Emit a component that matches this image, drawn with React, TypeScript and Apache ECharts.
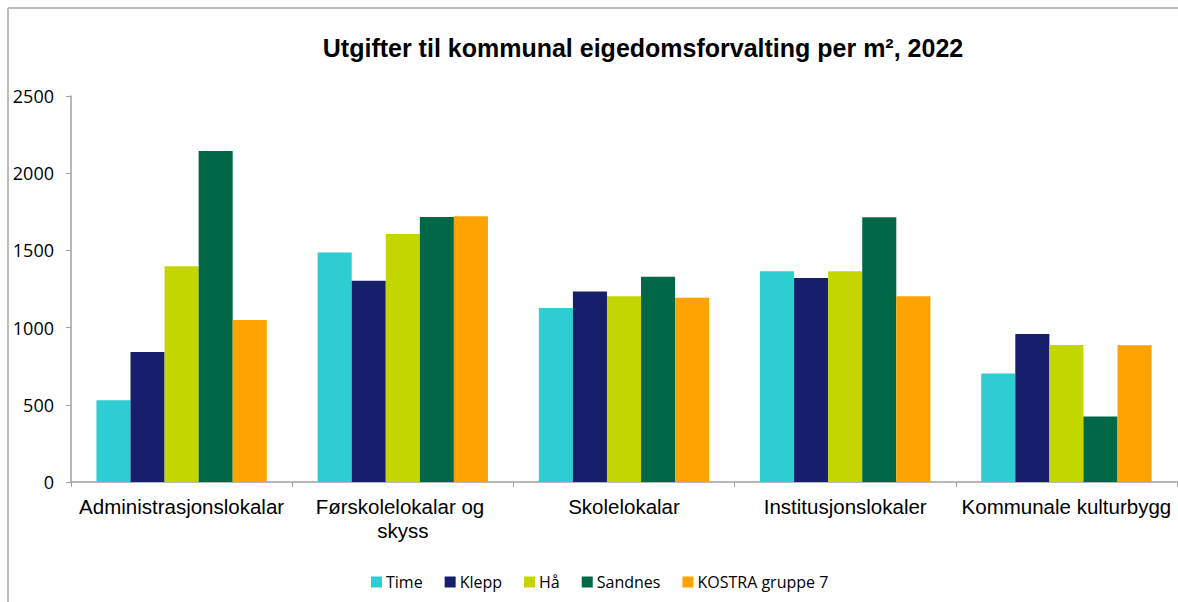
import React, { useEffect, useRef } from "react";
import * as echarts from "echarts";

const categories = [
  "Administrasjonslokalar",
  "Førskolelokalar og skyss",
  "Skolelokalar",
  "Institusjonslokaler",
  "Kommunale kulturbygg",
];
const seriesNames = ["Time", "Klepp", "Hå", "Sandnes", "KOSTRA gruppe 7"];
const seriesColors = ["#2ECCD3", "#171F6C", "#C4D600", "#006846", "#FFA300"];
const timeValues = [529, 1486, 1127, 1365, 702];
const kleppValues = [842, 1304, 1233, 1321, 959];
const haValues = [1397, 1606, 1203, 1365, 887];
const sandnesValues = [2144, 1716, 1330, 1714, 425];
const kostraValues = [1049, 1721, 1194, 1203, 885];
const yTicks = [0, 500, 1000, 1500, 2000, 2500];

const seriesValues = [timeValues, kleppValues, haValues, sandnesValues, kostraValues];

export default function App() {
  const ref = useRef<HTMLDivElement>(null);
  useEffect(() => {
    if (!ref.current) return;
    const chart = echarts.init(ref.current, null, { renderer: "svg" });
    chart.setOption({
      animation: false,
      backgroundColor: "#ffffff",
      title: {
        text: "Utgifter til kommunal eigedomsforvalting per m², 2022",
        left: 638,
        textAlign: "center",
        top: 30,
        textStyle: {
          fontFamily: "Liberation Sans",
          fontWeight: "bold",
          fontSize: 25,
          color: "#000",
        },
      },
      graphic: [
        { type: "line", shape: { x1: 8, y1: 8, x2: 8, y2: 602 }, style: { stroke: "#BDBDBD", lineWidth: 2 } },
        { type: "line", shape: { x1: 8, y1: 8, x2: 1178, y2: 8 }, style: { stroke: "#BDBDBD", lineWidth: 2 } },
      ],
      legend: {
        data: seriesNames,
        left: 366,
        top: 569,
        icon: "rect",
        itemWidth: 11,
        itemHeight: 11,
        itemGap: 22,
        textStyle: { fontFamily: "Open Sans", fontSize: 16, color: "#000", padding: [0, 0, 0, -1] },
      },
      grid: { left: 71, right: 1, top: 96, bottom: 120, containLabel: false },
      xAxis: {
        type: "category",
        data: categories,
        axisLine: { lineStyle: { color: "#A0A0A0", width: 1.5 } },
        axisTick: { show: true, length: 5, lineStyle: { color: "#A0A0A0" } },
        axisLabel: {
          interval: 0,
          margin: 12,
          fontFamily: "Liberation Sans",
          fontSize: 20.5,
          color: "#000",
          lineHeight: 24,
          width: 214,
          overflow: "break",
        },
      },
      yAxis: {
        type: "value",
        min: yTicks[0],
        max: yTicks[yTicks.length - 1],
        interval: 500,
        splitLine: { show: false },
        axisLine: { show: true, lineStyle: { color: "#A0A0A0", width: 1.5 } },
        axisTick: { show: true, length: 5, lineStyle: { color: "#A0A0A0" } },
        axisLabel: {
          margin: 17,
          fontFamily: "Open Sans",
          fontSize: 18,
          color: "#000",
          formatter: (v: number) => String(v),
        },
      },
      series: seriesNames.map((name, i) => ({
        name,
        type: "bar",
        data: seriesValues[i],
        barGap: 0,
        barCategoryGap: "23%",
        itemStyle: { color: seriesColors[i] },
      })),
    });
    return () => chart.dispose();
  }, []);
  return (
    <div
      ref={ref}
      style={{ position: "absolute", left: 0, top: 0, width: 1178, height: 602 }}
    />
  );
}
